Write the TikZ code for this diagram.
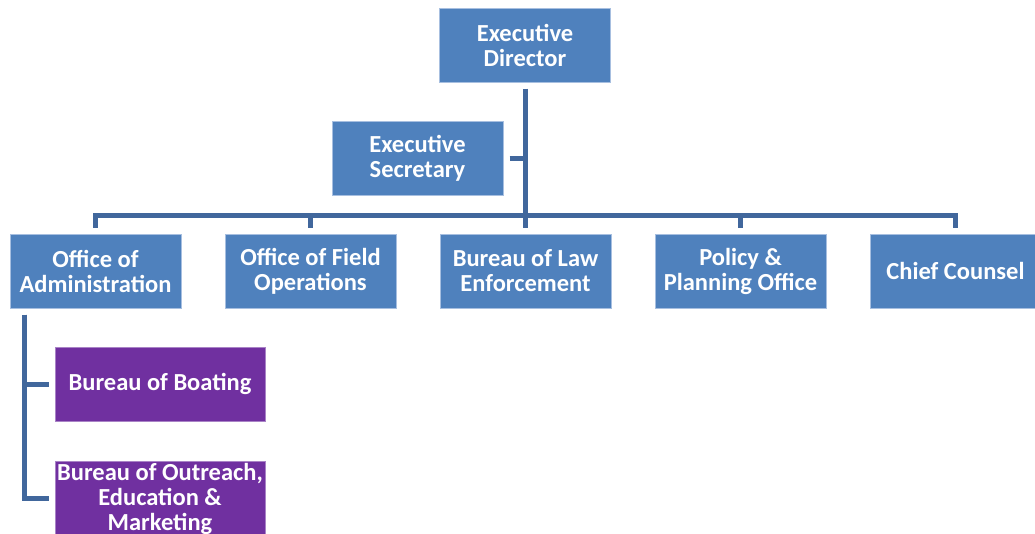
\documentclass[tikz,border=0pt]{standalone}
\usepackage{fontspec}
\setmainfont{Carlito}
\usetikzlibrary{positioning}
\definecolor{unitblue}{HTML}{4F81BD}
\definecolor{unitpurple}{HTML}{7030A0}
\definecolor{linkblue}{HTML}{41679C}
\definecolor{edgeblue}{HTML}{A7BFE0}
\tikzset{
  unit/.style = {rectangle, fill=unitblue, draw=edgeblue, line width=0.8pt,
    text=white, font=\fontsize{24.5}{25}\selectfont\bfseries, align=center,
    minimum width=171pt, minimum height=74pt, inner sep=0pt, outer sep=6.5pt},
  bureau/.style = {unit, fill=unitpurple, draw=unitpurple!60!white, minimum width=210pt},
  link/.style = {draw=linkblue, line width=5pt}
}
\begin{document}
\begin{tikzpicture}[x=1pt, y=-1pt, node distance = 215pt]
    \useasboundingbox (0,0) rectangle (1035,533);
    \node[unit] (director) at (525,45) {Executive\\Director};
    \node[unit] (secretary) at (417.5,158) {Executive\\Secretary};

    \node[unit] (admin) at (95.5,271) {Office of\\Administration};
    \node[unit] (field) [right of = admin] {Office of Field\\Operations};
    \node[unit] (law) [right of = field] {Bureau of Law\\Enforcement};
    \node[unit] (policy) [right of = law] {Policy \&\\Planning Office};
    \node[unit] (chief) [right of = policy] {Chief Counsel};

    \node[bureau] (boating) at (160,384) {Bureau of Boating};
    \node[bureau] (outreach) at (160,498.5) {Bureau of Outreach,\\Education \&\\Marketing};

    \coordinate (bus) at (525,215);
    \draw[link] (director.south) -- (bus);
    \draw[link] (secretary.east) -- (secretary.east -| bus);
    \foreach \unit in {admin, field, law, policy, chief}
      \draw[link] (bus) -| (\unit.north);

    \draw[link] ([xshift=-71pt]admin.south) |- (boating.west);
    \draw[link] ([xshift=-71pt]admin.south) |- (outreach.west);
  \end{tikzpicture}
\end{document}
